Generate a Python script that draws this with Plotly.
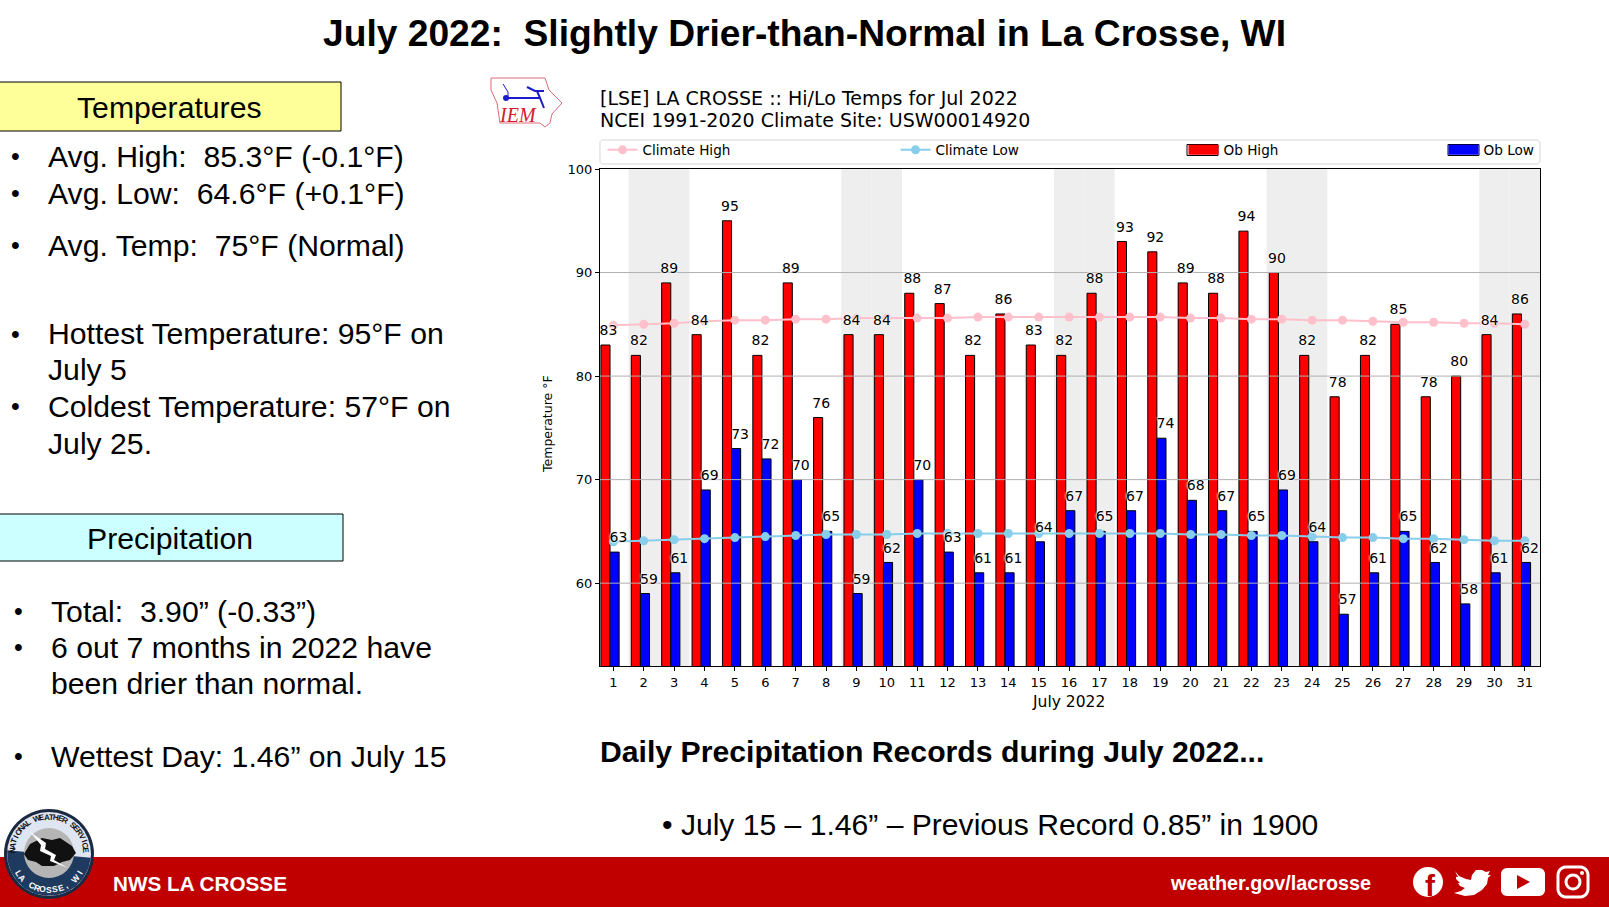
import math
import plotly.graph_objects as go

W = 1609
H = 907
TOP = 7  # plotly leaves this much above paper y=1 here

days = list(range(1, 32))
ob_high = [83, 82, 89, 84, 95, 82, 89, 76, 84, 84, 88, 87, 82, 86, 83, 82,
           88, 93, 92, 89, 88, 94, 90, 82, 78, 82, 85, 78, 80, 84, 86]
ob_low = [63, 59, 61, 69, 73, 72, 70, 65, 59, 62, 70, 63, 61, 61, 64, 67,
          65, 67, 74, 68, 67, 65, 69, 64, 57, 61, 65, 62, 58, 61, 62]
climate_high = [84.9, 85.0, 85.1, 85.3, 85.4, 85.4, 85.5, 85.5, 85.6, 85.6, 85.6,
                85.6, 85.7, 85.7, 85.7, 85.7, 85.7, 85.7, 85.7, 85.6, 85.6, 85.5,
                85.5, 85.4, 85.4, 85.3, 85.2, 85.2, 85.1, 85.1, 85.0]
climate_low = [64.0, 64.1, 64.2, 64.3, 64.4, 64.5, 64.6, 64.7, 64.7, 64.7, 64.8,
               64.8, 64.8, 64.8, 64.8, 64.8, 64.8, 64.8, 64.8, 64.7, 64.7, 64.6,
               64.6, 64.5, 64.4, 64.4, 64.3, 64.3, 64.2, 64.1, 64.1]
weekend_days = [2, 3, 9, 10, 16, 17, 23, 24, 30, 31]
y_ticks = [60, 70, 80, 90, 100]

temp_lines = [
    (156, "Avg. High:\u00a0 85.3°F (-0.1°F)", True),
    (193, "Avg. Low:\u00a0 64.6°F (+0.1°F)", True),
    (245, "Avg. Temp:\u00a0 75°F (Normal)", True),
    (334, "Hottest Temperature: 95°F on", True),
    (369, "July 5", False),
    (406, "Coldest Temperature: 57°F on", True),
    (443, "July 25.", False),
]
precip_lines = [
    (611, "Total:\u00a0 3.90” (-0.33”)", True),
    (647, "6 out 7 months in 2022 have", True),
    (683, "been drier than normal.", False),
    (756, "Wettest Day: 1.46” on July 15", True),
]

SANS = "Liberation Sans"
MPL = "DejaVu Sans"
RED_BAND = "#c00000"


def px(x):
    return x / W


def py(y):
    return 1 - (y - TOP) / (H - TOP)


def label(x, y, text, size=30.2, color="black", font=SANS, anchor="left", bold=False, angle=0, italic=False):
    if bold:
        text = "<b>" + text + "</b>"
    if italic:
        text = "<i>" + text + "</i>"
    fig.add_annotation(x=px(x), y=py(y), xref="paper", yref="paper", text=text, showarrow=False,
                       xanchor=anchor, yanchor="middle", textangle=angle, borderpad=0, borderwidth=0,
                       font=dict(size=size, color=color, family=font))


def poly(points, fill=None, line=None, width=1, close=True):
    path = "M " + " L ".join("{:.5f} {:.5f}".format(px(a), py(b)) for a, b in points)
    if close:
        path += " Z"
    fig.add_shape(type="path", xref="paper", yref="paper", path=path, layer="above",
                  fillcolor=fill if fill else "rgba(0,0,0,0)",
                  line=dict(color=line if line else "rgba(0,0,0,0)", width=width))


def box(x0, y0, x1, y1, fill=None, line=None, width=1, kind="rect", layer="above"):
    fig.add_shape(type=kind, xref="paper", yref="paper", x0=px(x0), x1=px(x1), y0=py(y0), y1=py(y1),
                  fillcolor=fill if fill else "rgba(0,0,0,0)", layer=layer,
                  line=dict(color=line if line else "rgba(0,0,0,0)", width=width))


def round_rect(x0, y0, x1, y1, r):
    pts = []
    for cx, cy, start in [(x1 - r, y0 + r, -90), (x1 - r, y1 - r, 0), (x0 + r, y1 - r, 90), (x0 + r, y0 + r, 180)]:
        for k in range(7):
            a = math.radians(start + k * 15)
            pts.append((cx + r * math.cos(a), cy + r * math.sin(a)))
    return pts


def ring_text(text, cx, cy, r, start, stop, size, color):
    # letters one by one round the seal
    n = len(text)
    for i, ch in enumerate(text):
        a = start + (stop - start) * i / (n - 1)
        x = cx + r * math.sin(math.radians(a))
        y = cy - r * math.cos(math.radians(a))
        rot = a if abs(a) < 90 else a - 180
        label(x, y, ch, size=size, color=color, anchor="center", bold=True, angle=rot)


def legend_at(x):
    return dict(orientation="h", x=px(x), y=py(150), xanchor="left", yanchor="middle",
                bgcolor="rgba(0,0,0,0)", borderwidth=0, font=dict(size=13.6, family=MPL), itemwidth=30,
                itemclick=False, itemdoubleclick=False)


fig = go.Figure()

# grid goes in as a trace so that it sits over the bars but under the labels
grid_x = []
grid_y = []
for t in y_ticks[:-1]:
    grid_x += [0.56, 31.5, None]
    grid_y += [t, t, None]
fig.add_trace(go.Scatter(x=grid_x, y=grid_y, mode="lines", line=dict(color="#b0b0b0", width=1),
                         showlegend=False, hoverinfo="skip"))

fig.add_trace(go.Scatter(x=days, y=climate_high, name="Climate High", mode="lines+markers", legend="legend",
                         line=dict(color="#ffc0cb", width=2), marker=dict(color="#ffc0cb", size=9)))
fig.add_trace(go.Scatter(x=days, y=climate_low, name="Climate Low", mode="lines+markers", legend="legend2",
                         line=dict(color="#87ceeb", width=2), marker=dict(color="#87ceeb", size=9)))
fig.add_trace(go.Bar(x=days, y=ob_high, name="Ob High", width=0.3, offset=-0.41, base=0, showlegend=False,
                     marker=dict(color="#ff0000", line=dict(color="black", width=1))))
fig.add_trace(go.Bar(x=days, y=ob_low, name="Ob Low", width=0.3, offset=-0.11, base=0, showlegend=False,
                     marker=dict(color="#0000ff", line=dict(color="black", width=1))))
# plotly's bar swatch is a small square, the wide patches need a line entry
fig.add_trace(go.Scatter(x=[None], y=[None], name="Ob High", mode="lines", legend="legend3",
                         line=dict(color="#ff0000", width=10)))
fig.add_trace(go.Scatter(x=[None], y=[None], name="Ob Low", mode="lines", legend="legend4",
                         line=dict(color="#0000ff", width=10)))

halo = "0 0 2px white, 0 0 2px white, 0 0 3px white"
fig.add_trace(go.Scatter(x=[d - 0.16 for d in days], y=[v + 1.3 for v in ob_high], mode="text",
                         text=ob_high, textposition="middle center", showlegend=False, hoverinfo="skip",
                         textfont=dict(size=14, color="black", family=MPL, shadow=halo)))
fig.add_trace(go.Scatter(x=[d + 0.17 for d in days], y=[v + 1.3 for v in ob_low], mode="text",
                         text=ob_low, textposition="middle center", showlegend=False, hoverinfo="skip",
                         textfont=dict(size=14, color="black", family=MPL, shadow=halo)))

# weekends
for d in weekend_days:
    fig.add_shape(type="rect", xref="x", yref="y domain", x0=d - 0.5, x1=d + 0.5, y0=0, y1=1,
                  layer="below", fillcolor="#eeeeee", line=dict(width=0))

fig.update_layout(
    width=W, height=H, margin=dict(l=0, r=0, t=0, b=0), autosize=False,
    paper_bgcolor="white", plot_bgcolor="rgba(0,0,0,0)", barmode="overlay", showlegend=True,
    font=dict(family=MPL, color="black"),
    legend=legend_at(602.5), legend2=legend_at(895.5), legend3=legend_at(1183.5), legend4=legend_at(1443.5),
    xaxis=dict(domain=[px(600), px(1540)], range=[0.56, 31.5], tickmode="array", tickvals=days,
               showgrid=False, zeroline=False, showline=True, mirror=True, linecolor="black", linewidth=1,
               ticks="outside", ticklen=4, tickcolor="black", tickangle=0, tickfont=dict(size=13, family=MPL)),
    yaxis=dict(domain=[py(666), py(169)], range=[52, 100], tickmode="array", tickvals=y_ticks,
               showgrid=False, zeroline=False, showline=True, mirror=True, linecolor="black", linewidth=1,
               ticks="outside", ticklen=4, tickcolor="black", tickfont=dict(size=13, family=MPL)),
)

# legend frame and the outlines of the two patches
poly(round_rect(600, 140, 1540, 164, 3), line="#d5d5d5", width=1)
box(1187, 144.5, 1218, 155.5, line="black")
box(1448, 144.5, 1479, 155.5, line="black")

# headline
label(804, 33, "July 2022:\u00a0 Slightly Drier-than-Normal in La Crosse, WI", size=37.2, anchor="center", bold=True)

# chart texts
label(600, 98, "[LSE] LA CROSSE :: Hi/Lo Temps for Jul 2022", size=19, font=MPL)
label(600, 120, "NCEI 1991-2020 Climate Site: USW00014920", size=19, font=MPL)
label(547, 424, "Temperature °F", size=12.5, font=MPL, anchor="center", angle=-90)
label(1068, 702, "July 2022", size=15.5, font=MPL, anchor="center")

# left panels
box(-2, 82, 341, 131, fill="#ffff99", line="black")
label(169, 107, "Temperatures", anchor="center")
box(-2, 514, 343, 561, fill="#ccffff", line="black")
label(170, 538, "Precipitation", anchor="center")
for y, text, bullet in temp_lines:
    if bullet:
        label(11, y, "•", size=25)
    label(48, y, text)
for y, text, bullet in precip_lines:
    if bullet:
        label(14, y, "•", size=25)
    label(51, y, text)

label(600, 751, "Daily Precipitation Records during July 2022...", bold=True)
label(662, 824, "• July 15 – 1.46” – Previous Record 0.85” in 1900", size=30.1)

# footer band
box(0, 857, W, H, fill=RED_BAND)
label(113, 883, "NWS LA CROSSE", size=20.7, color="white", bold=True)
label(1371, 883, "weather.gov/lacrosse", size=19.8, color="white", bold=True, anchor="right")

# facebook
box(1413, 867, 1443, 897, fill="white", kind="circle")
label(1430, 885, "f", size=30, color=RED_BAND, anchor="center", bold=True)
# twitter
poly([(1455, 871), (1459, 876), (1466, 879), (1471, 880), (1472, 875), (1476, 870), (1482, 870), (1486, 872),
      (1490, 871), (1488, 875), (1491, 875), (1488, 878), (1487, 884), (1482, 890), (1474, 895), (1465, 896),
      (1454, 893), (1461, 891), (1465, 888), (1460, 886), (1458, 883), (1460, 883), (1456, 879), (1456, 877),
      (1458, 877)], fill="white")
# youtube
poly(round_rect(1501, 868, 1545, 896, 6), fill="white")
poly([(1517, 875), (1517, 889), (1530, 882)], fill=RED_BAND)
# instagram
poly(round_rect(1558, 867, 1588, 897, 8), line="white", width=3)
box(1566, 875, 1580, 889, line="white", width=3, kind="circle")
box(1580, 871, 1584, 875, fill="white", kind="circle")

# seal
box(4, 809, 94, 899, fill="#1b2a41", kind="circle")
box(7, 812, 91, 896, fill="#dfe6f2", kind="circle")
poly([(7 + 42 - 42 * math.cos(math.radians(a)), 854 + 42 * math.sin(math.radians(a))) for a in range(-5, 190, 15)],
     fill="#1f3a5f")
box(24, 828, 74, 878, fill="#b5b5b5", kind="circle")
poly([(24, 854), (30, 844), (42, 838), (52, 840), (60, 838), (72, 846), (76, 853), (70, 860), (62, 862), (54, 866),
      (42, 866), (36, 862), (28, 860)], fill="#111111")
poly([(30, 832), (46, 843), (45, 849), (56, 855), (54, 860), (68, 868), (50, 861), (51, 856), (40, 851), (41, 845)],
     fill="white")
ring_text("NATIONAL WEATHER SERVICE", 49, 854, 37, -84, 84, 8, "#111111")
ring_text("LA CROSSE, WI", 49, 854, 36, 238, 122, 8.5, "white")

# IEM logo
poly([(491, 78), (545, 78), (549, 90), (562, 103), (552, 114), (550, 123), (545, 127), (540, 123), (500, 123),
      (497, 103), (491, 90)], line="#e06a7a", width=1)
poly([(505, 98), (540, 98)], line="#1c1ccc", width=2, close=False)
poly([(503, 84), (508, 92), (508, 98)], line="#1c1ccc", width=1, close=False)
poly([(527, 87), (535, 91), (544, 91)], line="#1c1ccc", width=2, close=False)
poly([(537, 91), (540, 98), (544, 108)], line="#1c1ccc", width=2, close=False)
box(503, 95, 509, 101, fill="#1c1ccc", kind="circle")
label(518, 115, "IEM", size=20, color="#d0202e", font="Liberation Serif", anchor="center", italic=True)

fig.write_html("out.html", config=dict(displayModeBar=False),
               post_script="document.body.style.margin='0';document.documentElement.style.overflow='hidden';")
